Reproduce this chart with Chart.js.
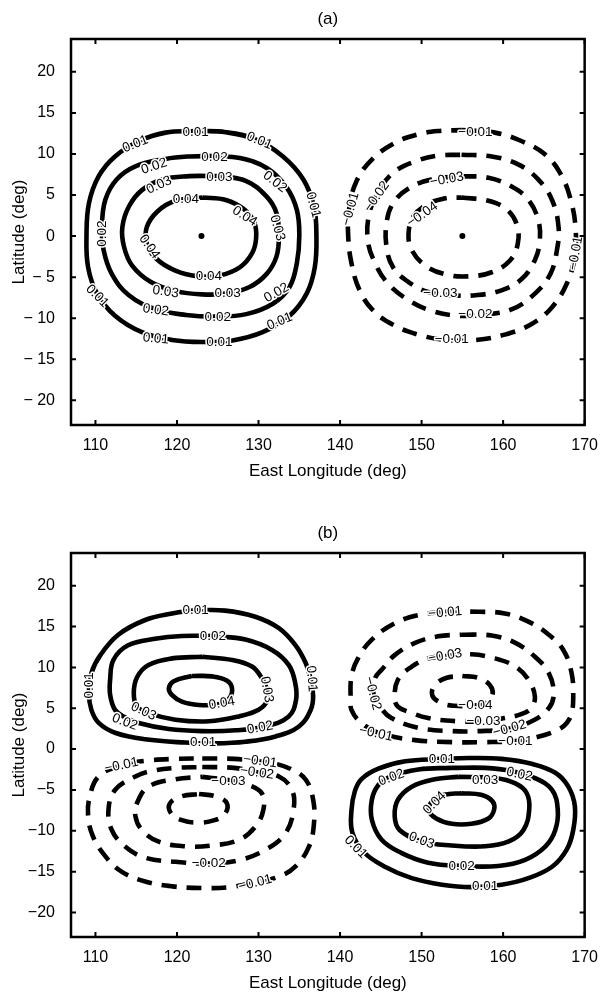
<!DOCTYPE html>
<html>
<head>
<meta charset="utf-8">
<script src="https://cdn.jsdelivr.net/npm/chart.js@4.4.0/dist/chart.umd.min.js"></script>
<style>
  html, body { margin: 0; padding: 0; background: #fff; }
  #wrap { position: relative; width: 601px; height: 992px; }
  canvas { position: absolute; left: 0; }
</style>
</head>
<body>
<div id="wrap">
  <canvas id="panelA" width="601" height="496" style="top:0"></canvas>
  <canvas id="panelB" width="601" height="496" style="top:496px"></canvas>
</div>
<script>
// axis ticks (same for both panels)
const xTicks = [110, 120, 130, 140, 150, 160, 170];
const yTicks = [-20, -15, -10, -5, 0, 5, 10, 15, 20];

// ---- panel (a) contours, [lon, lat] ----
const aPos01 = [[122.3,12.8],[126,12.65],[129.7,11.75],[133,9.7],[135.5,6.9],[136.8,3.6],[137.1,0],[136.9,-3.8],[135.9,-7.0],[133.8,-9.7],[130.5,-11.7],[126.8,-12.7],[123.1,-12.9],[119.4,-12.65],[115.7,-11.7],[112.4,-9.7],[110.2,-7.0],[109.1,-3.8],[108.9,0],[109.2,4.0],[110.4,7.3],[112.4,9.7],[115.3,11.55],[118.6,12.6]];
const aPos02 = [[124.6,9.75],[127.7,9.5],[131,8.3],[133.4,6.0],[134.7,3.2],[135,0],[134.7,-3.3],[133.8,-6.2],[131.8,-8.2],[128.5,-9.5],[124.8,-9.8],[121.1,-9.6],[117.4,-8.9],[114.1,-7.2],[112,-4.6],[111,-1.7],[110.8,1.1],[111.2,4.4],[112.6,6.9],[114.9,8.5],[118.6,9.4],[121.5,9.7]];
const aPos03 = [[125.2,7.3],[128.5,6.7],[131,4.8],[132.2,2.8],[132.5,0],[132.2,-2.5],[131,-4.6],[128.9,-6.2],[126,-7.0],[123.1,-7.1],[119.8,-6.7],[116.8,-5.6],[114.5,-3.6],[113.5,-1.3],[113.3,1.1],[114.1,3.6],[115.7,5.6],[118.2,6.9],[121.5,7.3]];
const aPos04 = [[123.1,4.7],[126,4.4],[128.3,3.2],[129.5,1.6],[129.7,-0.3],[129.2,-2.1],[127.7,-3.8],[125.2,-4.8],[122.7,-4.9],[119.8,-4.2],[117.4,-2.7],[116.3,-0.9],[116.3,1.1],[117.6,3.0],[119.8,4.3]];
const aNeg01 = [[154.9,12.9],[159,12.6],[162.3,11.55],[165.2,9.9],[167.2,7.3],[168.4,4.0],[168.9,0.7],[168.8,-2.5],[167.8,-5.8],[166,-8.65],[163.5,-10.7],[160.2,-12.0],[156.6,-12.65],[152.9,-12.65],[149.6,-12.0],[146.7,-10.9],[144.1,-9.1],[142.4,-6.6],[141.4,-3.3],[141,0],[141.1,3.2],[142,6.65],[143.9,9.3],[146.7,11.35],[149.6,12.4],[152,12.8]];
const aNeg02 = [[154.9,9.9],[158.6,9.7],[161.9,8.7],[164.3,6.9],[166,4.4],[166.8,1.1],[166.6,-1.7],[165.8,-4.6],[163.9,-7.0],[161.1,-8.9],[157.8,-9.55],[154.5,-9.7],[151.2,-9.1],[148.4,-7.8],[145.9,-5.8],[144.3,-3.3],[143.4,-0.5],[143.6,2.8],[144.7,5.4],[146.5,7.7],[149.2,9.1],[152,9.8]];
const aNeg03 = [[154.9,7.3],[158.2,7.1],[161.1,6.0],[163.1,4.4],[164.3,2.0],[164.5,-0.5],[163.9,-2.9],[162.3,-5.2],[159.8,-6.6],[156.6,-7.2],[153.7,-7.2],[150.8,-6.8],[148.4,-5.6],[146.5,-3.8],[145.7,-1.3],[145.7,1.6],[146.5,4.0],[148.4,5.8],[151.2,6.9]];
const aNeg04 = [[154.9,4.7],[158.2,4.3],[160.5,3.2],[161.7,1.35],[161.8,-0.9],[160.9,-2.9],[158.6,-4.4],[155.7,-4.9],[152.9,-4.65],[150.4,-3.55],[148.8,-1.7],[148.4,0.3],[149,2.4],[150.6,3.8],[152.9,4.6]];
const aCentres = [[123, 0], [155, 0]];

// contour labels [lon, lat, text] and their rotation (deg)
const aLabels = [
  [122.3,12.7,'0.01'],[130.1,11.6,'0.01'],[114.9,11.2,'0.01'],[136.7,3.8,'0.01'],[110.8,0.3,'0.02'],
  [110.2,-7.3,'0.01'],[117.4,-12.5,'0.01'],[125.2,-12.9,'0.01'],[132.6,-10.4,'0.01'],[132.2,-6.9,'0.02'],
  [117.4,-9.0,'0.02'],[125,-9.9,'0.02'],[117.2,8.5,'0.02'],[124.6,9.6,'0.02'],[132,6.6,'0.02'],
  [117.8,6.2,'0.03'],[125.2,7.2,'0.03'],[132.3,1.0,'0.03'],[118.6,-6.8,'0.03'],[126.2,-7.0,'0.03'],
  [121.1,4.5,'0.04'],[128.3,2.4,'0.04'],[116.6,-1.3,'0.04'],[123.9,-4.9,'0.04'],
  [156.6,12.7,'\u22120.01'],[141.3,3.3,'\u22120.01'],[144.5,4.8,'\u22120.02'],[153.1,6.9,'\u22120.03'],
  [150.1,2.6,'\u22120.04'],[168.9,-2.1,'\u22120.01'],[152.3,-7.0,'\u22120.03'],[156.6,-9.5,'\u22120.02'],
  [153.7,-12.6,'\u22120.01']
];
const aLabelAngles = [0,22,-22,75,-90, 45,5,0,-22,-30, 8,0,-18,0,38, -25,0,75,8,0, 0,32,55,0,
  0,-75,-55,-10, -35,-80,0,0, 0];

// ---- panel (b) contours ----
const bPosTL01 = [[122.2,17.0],[125.9,16.95],[129.6,16.2],[132.5,14.8],[134.5,12.75],[135.8,10.5],[136.4,8.5],[136.7,6.5],[136.4,4.8],[135,2.8],[132.1,1.55],[128.4,0.9],[124.7,0.7],[121,0.8],[116.1,1.2],[112.4,2.0],[110.4,3.2],[109.5,4.8],[109.2,6.8],[109.5,9.3],[110.6,11.5],[112.8,14.0],[116.1,15.8],[119.4,16.6]];
const bPosTL02 = [[124.3,13.85],[128.4,13.4],[131.7,12.1],[133.7,10.3],[134.5,8.1],[134.6,6.0],[133.7,4.0],[130.9,2.8],[127.2,2.3],[123.1,2.2],[119,2.45],[115.3,3.2],[113.6,3.9],[112.4,4.8],[111.8,6.65],[111.8,8.5],[112.2,10.9],[114.0,12.7],[117.3,13.5],[120.6,13.85]];
const bPosTL03 = [[123.1,11.3],[126.8,10.9],[129.2,10.1],[130.4,8.7],[131,7.45],[131.1,6.0],[130,4.8],[127.6,4.0],[123.9,3.4],[119.8,3.6],[116.5,4.4],[115.1,5.2],[114.7,6.8],[115.1,8.8],[116.5,10.3],[119.4,11.1]];
const bPosTL04 = [[121.8,8.95],[124.3,8.9],[126.1,8.4],[126.75,7.45],[126.4,6.2],[125.1,5.5],[122.7,5.4],[120.6,5.8],[119.4,6.6],[119.0,7.45],[119.6,8.3]];
const bNegTR01 = [[152.9,16.8],[157,16.8],[160.2,16.6],[163.1,15.6],[165.6,14.0],[167.4,12.1],[168.4,9.3],[168.6,6.4],[168.4,4.4],[167.8,3.2],[166.8,2.4],[164.3,1.5],[161.5,1.0],[157.8,0.85],[153.7,0.85],[149.2,1.1],[144.7,2.0],[142.4,3.4],[141.4,4.8],[141.3,6.0],[141.4,8.9],[142.2,11.1],[143.9,13.4],[146.7,15.4],[149.6,16.4]];
const bNegTR02 = [[154.9,14.0],[158.6,13.9],[161.5,13.0],[163.9,11.3],[165.6,9.3],[166.2,6.8],[165.6,5.0],[163.5,3.4],[160.7,2.5],[157,2.2],[153.7,2.2],[149.6,2.6],[146.3,3.8],[144.9,5.2],[144.1,6.8],[144.3,8.7],[145.1,9.7],[146.7,11.5],[149.2,13.0],[152,13.8]];
const bNegTR03 = [[152.9,11.4],[156.1,11.6],[159,11.1],[161.5,10.1],[163.1,8.5],[163.9,6.4],[163.4,5.0],[162.3,4.3],[160.2,3.8],[157.6,3.4],[154.5,3.4],[150.8,3.8],[148.3,4.6],[147.1,5.2],[146.7,6.2],[147.1,8.5],[148.8,10.1],[150.8,11.1]];
const bNegTR04 = [[155,8.95],[157,8.7],[158.4,7.8],[158.7,6.6],[157.8,5.6],[156,5.3],[154,5.3],[152.3,5.7],[151.3,6.6],[151.6,7.8],[153,8.7]];
const bNegBL01 = [[123.1,-1.15],[127,-1.2],[130,-1.5],[132.1,-1.8],[134.1,-2.5],[135.8,-3.75],[136.7,-6.2],[136.8,-9.1],[136.2,-11.9],[134.5,-14.4],[132.5,-15.6],[129.6,-16.3],[126.5,-16.9],[123.1,-17.0],[119.4,-16.8],[116.1,-16.2],[113.2,-15],[111.2,-13.1],[109.7,-10.7],[109.1,-8.2],[109.3,-5.8],[110.4,-3.35],[113.2,-2.0],[116.5,-1.4],[119.8,-1.2]];
const bNegBL02 = [[123.1,-2.2],[127,-2.3],[129.6,-2.8],[132.5,-3.35],[134.1,-5.0],[134.3,-7.4],[133.3,-10.3],[130.9,-12.3],[127.6,-13.6],[123.9,-14.0],[119.8,-13.8],[116.1,-13.3],[113.6,-11.9],[112,-9.9],[111.6,-7.4],[112.4,-5.0],[114.9,-3.35],[116.8,-2.7],[119.8,-2.3]];
const bNegBL03 = [[123.1,-3.4],[126.3,-3.8],[128.8,-4.4],[130.4,-5.4],[130.6,-7.4],[129.6,-9.5],[127.6,-11.1],[124.3,-11.8],[121,-11.9],[117.7,-11.3],[115.7,-9.9],[114.9,-8.2],[115.1,-6.6],[116.5,-4.6],[119.8,-3.7]];
const bNegBL04 = [[122.7,-5.5],[124.8,-5.8],[126.1,-6.6],[125.9,-7.9],[124.6,-8.7],[122.6,-9.0],[120.6,-8.7],[119.3,-7.9],[119.1,-6.7],[120.5,-5.8]];
const bPosBR01 = [[152.5,-1.2],[155.7,-1.1],[159.8,-1.2],[163.5,-1.8],[166.4,-2.9],[168,-4.6],[168.8,-7.0],[168.6,-9.9],[167.8,-12.3],[166,-14.4],[163.1,-15.8],[159.8,-16.6],[156.1,-16.9],[152.5,-16.6],[148.8,-15.8],[145.5,-14.4],[142.9,-12.6],[141.5,-10.2],[141.4,-7.5],[141.8,-5.2],[142.6,-3.7],[144.7,-2.4],[148,-1.5]];
const bPosBR02 = [[153.7,-2.3],[157.8,-2.3],[161.1,-2.7],[163.9,-3.55],[166,-5.0],[166.7,-7.4],[166.4,-9.9],[165.2,-11.9],[162.7,-13.55],[159.4,-14.3],[154.9,-14.3],[150.8,-13.9],[147.5,-12.7],[145.1,-11.1],[143.9,-8.65],[143.9,-6.2],[144.7,-4.4],[146.1,-3.4],[149.6,-2.5]];
const bPosBR03 = [[154.5,-3.4],[159,-3.55],[161.5,-4.2],[162.9,-5.4],[163.2,-7.4],[162.5,-9.9],[160.7,-11.3],[157.8,-11.9],[153.7,-11.8],[150,-11.3],[147.3,-9.9],[146.7,-8.2],[147.1,-6.2],[148.8,-4.6],[151.6,-3.7]];
const bPosBR04 = [[154.9,-5.4],[157.3,-5.6],[158.7,-6.4],[158.9,-7.4],[158.2,-8.5],[156.1,-9.15],[153.7,-9.15],[151.8,-8.5],[150.9,-7.5],[151.3,-6.4],[152.8,-5.6]];

const bLabels = [
  [122.3,17.0,'0.01'],[124.4,13.8,'0.02'],[109.3,7.8,'0.01'],[131,7.3,'0.03'],[136.5,8.6,'0.01'],
  [125.5,5.6,'0.04'],[115.9,4.6,'0.03'],[113.6,3.3,'0.02'],[130.2,2.6,'0.02'],[123.2,0.8,'0.01'],
  [152.9,16.7,'\u22120.01'],[152.9,11.4,'\u22120.03'],[144.0,6.8,'\u22120.02'],[156.6,5.35,'\u22120.04'],
  [157.6,3.4,'\u22120.03'],[160.8,2.5,'\u22120.02'],[161.5,1.0,'\u22120.01'],[144.4,1.9,'\u22120.01'],
  [113.2,-2.0,'\u22120.01'],[130.2,-1.5,'\u22120.01'],[129.8,-2.9,'\u22120.02'],[126.3,-3.9,'\u22120.03'],
  [123.9,-14.0,'\u22120.02'],[129.6,-16.4,'\u22120.01'],
  [152.5,-1.2,'0.01'],[146.3,-3.5,'0.02'],[157.8,-3.8,'0.03'],[162,-3.1,'0.02'],[151.6,-6.6,'0.04'],
  [150,-11.2,'0.03'],[154.9,-14.3,'0.02'],[157.8,-16.8,'0.01'],[141.9,-12.0,'0.01']
];
const bLabelAngles = [0,0,-90,80,85, -10,25,20,-10,0, -5,-10,75,0, 0,-15,0,12, -12,8,8,0, 0,-15,
  0,-20,0,12,-45, 20,0,0,45];

const FONT = "'Liberation Sans', Arial, Helvetica, sans-serif";

function contourSet(points, dashed) {
    return {
        data: points.concat([points[0]]).map(p => ({ x: p[0], y: p[1] })),
        showLine: true,
        borderColor: '#000',
        borderWidth: 4.6,
        borderDash: dashed ? [15, 10] : [],
        borderCapStyle: 'butt',
        tension: 0.4,
        pointRadius: 0,
        fill: false
    };
}

// draws MATLAB-like frame, inward ticks, title and the contour labels
const matlabFrame = {
    id: 'matlabFrame',
    afterDatasetsDraw(chart, args, opts) {
        const ctx = chart.ctx;
        const xs = chart.scales.x, ys = chart.scales.y;
        ctx.save();
        ctx.font = '13.5px ' + FONT;
        ctx.textAlign = 'center';
        ctx.textBaseline = 'middle';
        opts.labels.forEach((l, i) => {
            ctx.save();
            ctx.translate(xs.getPixelForValue(l[0]), ys.getPixelForValue(l[1]));
            ctx.rotate(opts.angles[i] * Math.PI / 180);
            ctx.lineWidth = 3;
            ctx.strokeStyle = '#fff';
            ctx.lineJoin = 'round';
            ctx.strokeText(l[2], 0, 0);
            ctx.fillStyle = '#000';
            ctx.fillText(l[2], 0, 0);
            ctx.restore();
        });
        ctx.restore();
    },
    afterDraw(chart, args, opts) {
        const ctx = chart.ctx;
        const a = chart.chartArea;
        const xs = chart.scales.x, ys = chart.scales.y;
        ctx.save();
        ctx.strokeStyle = '#000';
        ctx.lineWidth = 2;
        ctx.beginPath();
        xTicks.forEach(v => {
            const px = xs.getPixelForValue(v);
            ctx.moveTo(px, a.bottom); ctx.lineTo(px, a.bottom - 5);
            ctx.moveTo(px, a.top); ctx.lineTo(px, a.top + 5);
        });
        yTicks.forEach(v => {
            const py = ys.getPixelForValue(v);
            ctx.moveTo(a.left, py); ctx.lineTo(a.left + 5, py);
            ctx.moveTo(a.right, py); ctx.lineTo(a.right - 5, py);
        });
        ctx.stroke();
        ctx.lineWidth = 2.5;
        ctx.strokeRect(a.left, a.top, a.right - a.left, a.bottom - a.top);
        ctx.fillStyle = '#000';
        ctx.font = '17px ' + FONT;
        ctx.textAlign = 'center';
        ctx.textBaseline = 'middle';
        ctx.fillText(opts.title, (a.left + a.right) / 2, a.top - 20);
        ctx.restore();
    }
};

function makePanel(id, title, contours, dashedFlags, centres, labels, angles, spacedMinus, areaTop, areaBottom) {
    const H = 496;
    const datasets = contours.map((c, i) => contourSet(c, dashedFlags[i]));
    if (centres.length) {
        datasets.push({
            data: centres.map(p => ({ x: p[0], y: p[1] })),
            showLine: false,
            pointRadius: 3,
            pointBackgroundColor: '#000',
            pointBorderWidth: 0
        });
    }
    return new Chart(document.getElementById(id), {
        type: 'scatter',
        data: { datasets: datasets },
        options: {
            responsive: false,
            animation: false,
            devicePixelRatio: 1,
            layout: { padding: { top: areaTop, right: 13, left: 0, bottom: 0 } },
            plugins: {
                legend: { display: false },
                tooltip: { enabled: false },
                matlabFrame: { title: title, labels: labels, angles: angles }
            },
            scales: {
                x: {
                    type: 'linear', min: 107, max: 170,
                    grid: { display: false }, border: { display: false },
                    afterBuildTicks: s => { s.ticks = xTicks.map(v => ({ value: v })); },
                    afterFit: s => { s.height = H - areaBottom; },
                    ticks: { padding: 3, color: '#000', font: { family: FONT, size: 16 } },
                    title: {
                        display: true, text: 'East Longitude (deg)', color: '#000',
                        font: { family: FONT, size: 17 },
                        padding: { top: 0, bottom: H - areaBottom - 46 - 10.2 }
                    }
                },
                y: {
                    type: 'linear', min: -23, max: 24,
                    grid: { display: false }, border: { display: false },
                    afterBuildTicks: s => { s.ticks = yTicks.map(v => ({ value: v })); },
                    afterFit: s => { s.width = 71; },
                    ticks: {
                        padding: 8, color: '#000', font: { family: FONT, size: 16 },
                        callback: v => v < 0 ? '\u2212' + (spacedMinus ? ' ' : '') + Math.abs(v) : String(v)
                    },
                    title: {
                        display: true, text: 'Latitude (deg)', color: '#000',
                        font: { family: FONT, size: 17 },
                        padding: { top: 9, bottom: 0 }
                    }
                }
            }
        },
        plugins: [matlabFrame]
    });
}

makePanel('panelA', '(a)',
    [aPos01, aPos02, aPos03, aPos04, aNeg01, aNeg02, aNeg03, aNeg04],
    [false, false, false, false, true, true, true, true],
    aCentres, aLabels, aLabelAngles, true, 39, 425);

makePanel('panelB', '(b)',
    [bPosTL01, bPosTL02, bPosTL03, bPosTL04, bNegTR01, bNegTR02, bNegTR03, bNegTR04,
     bNegBL01, bNegBL02, bNegBL03, bNegBL04, bPosBR01, bPosBR02, bPosBR03, bPosBR04],
    [false, false, false, false, true, true, true, true, true, true, true, true, false, false, false, false],
    [], bLabels, bLabelAngles, false, 57, 441);
</script>
</body>
</html>
